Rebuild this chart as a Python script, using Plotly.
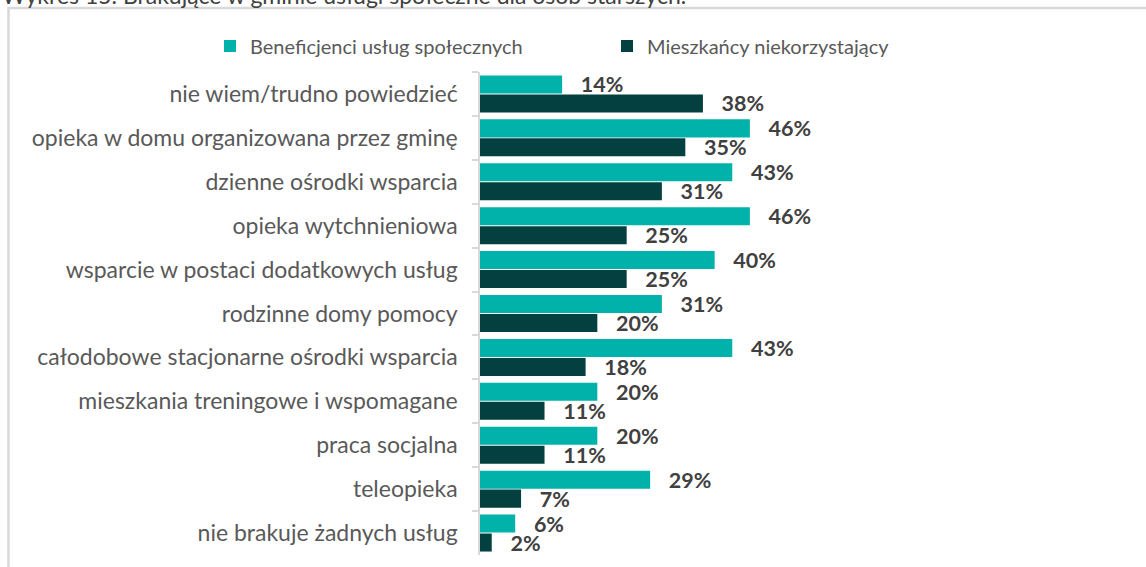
import plotly.graph_objects as go

categories = [
    "nie wiem/trudno powiedzieć",
    "opieka w domu organizowana przez gminę",
    "dzienne ośrodki wsparcia",
    "opieka wytchnieniowa",
    "wsparcie w postaci dodatkowych usług",
    "rodzinne domy pomocy",
    "całodobowe stacjonarne ośrodki wsparcia",
    "mieszkania treningowe i wspomagane",
    "praca socjalna",
    "teleopieka",
    "nie brakuje żadnych usług",
]
beneficjenci = [14, 46, 43, 46, 40, 31, 43, 20, 20, 29, 6]
mieszkancy = [38, 35, 31, 25, 25, 20, 18, 11, 11, 7, 2]
series_names = ["Beneficjenci usług społecznych", "Mieszkańcy niekorzystający"]
title_text = "Wykres 15. Brakujące w gminie usługi społeczne dla osób starszych."

W, H = 1146, 567
ML, MR, MT, MB = 480, 6, 72, 12
PW, PH = W - ML - MR, H - MT - MB

def px_x(p):
    return (p - ML) / PW

def px_y(p):
    return 1 - (p - MT) / PH

FONT = "Lato"
pad = "\u00a0" * 3

fig = go.Figure()
for name, vals, color in [
    (series_names[0], beneficjenci, "#00B2A9"),
    (series_names[1], mieszkancy, "#04403F"),
]:
    fig.add_trace(go.Bar(
        name=name, y=categories, x=vals, orientation="h",
        marker=dict(color=color, line=dict(width=0)),
        text=[pad + f"{v}%" for v in vals],
        textposition="outside", cliponaxis=False, constraintext="none",
        textfont=dict(family=FONT, size=21.5, color="#404040", weight="bold"),
        hoverinfo="skip",
    ))

fig.update_layout(
    width=W, height=H,
    margin=dict(l=ML, r=MR, t=MT, b=MB, pad=0),
    paper_bgcolor="white", plot_bgcolor="white",
    barmode="group", bargap=0.136, bargroupgap=0.05,
    font=dict(family=FONT, color="#595959"),
    xaxis=dict(range=[0, 112.5], visible=False, fixedrange=True),
    yaxis=dict(
        autorange="reversed", showline=True, linecolor="#d9d9d9", linewidth=1.5,
        ticks="outside", tickson="boundaries", ticklen=6, tickcolor="#d9d9d9",
        tickwidth=1.5, ticklabelstandoff=16, showgrid=False,
        tickfont=dict(family=FONT, size=23, color="#595959"),
    ),
    legend=dict(
        orientation="h", x=px_x(210), xanchor="left", y=px_y(46), yanchor="middle",
        font=dict(family=FONT, size=20, color="#595959"),
        entrywidth=352, entrywidthmode="pixels", traceorder="normal",
        bgcolor="rgba(0,0,0,0)",
    ),
    showlegend=True,
)

fig.add_annotation(
    text=title_text, xref="paper", yref="paper", x=px_x(0), y=1,
    xanchor="left", yanchor="bottom", yshift=MT - 11, showarrow=False,
    font=dict(family=FONT, size=23, color="#404040"),
)

fig.add_shape(type="line", xref="paper", yref="paper",
              x0=px_x(8), x1=px_x(1150), y0=px_y(8), y1=px_y(8),
              line=dict(color="#d9d9d9", width=2.5))
fig.add_shape(type="line", xref="paper", yref="paper",
              x0=px_x(8.5), x1=px_x(8.5), y0=px_y(7), y1=px_y(570),
              line=dict(color="#d9d9d9", width=2.5))

fig.write_html("out.html")
